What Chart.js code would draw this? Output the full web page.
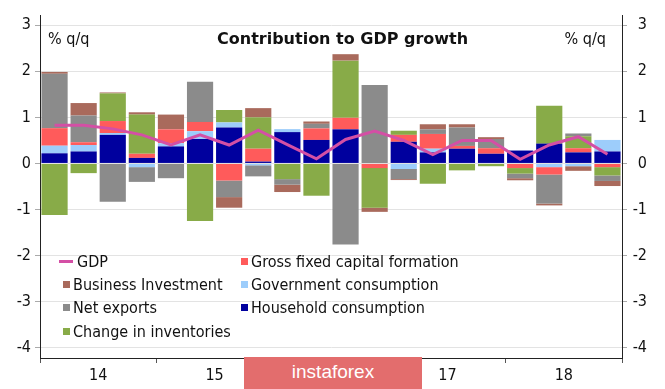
<!DOCTYPE html>
<html>
<head>
<meta charset="utf-8">
<script src="https://cdn.jsdelivr.net/npm/chart.js@4.4.1/dist/chart.umd.min.js"></script>
<style>
  body { margin: 0; background: #fff; }
  #wrap { position: relative; width: 665px; height: 389px; overflow: hidden; }
  #wrap div.t { position: absolute; white-space: nowrap; line-height: 20px; color: #111;
    font-family: "DejaVu Sans Condensed", "DejaVu Sans", sans-serif; font-size: 16px; }
  .sq { position: absolute; width: 7px; height: 7px; }
  #titre { font-family: "DejaVu Sans", sans-serif !important; font-weight: bold; }
  #wm { position: absolute; left: 244px; top: 357px; width: 178px; height: 32px; background: #e36d6d;
    color: #fff; font-family: "Liberation Sans", sans-serif; font-size: 19px; line-height: 30px; text-align: center; }
</style>
</head>
<body>
<div id="wrap">
  <canvas id="graph" width="665" height="389"></canvas>
  <div class="t" id="titre" style="left:217px; top:29px;">Contribution to GDP growth</div>
  <div class="t" style="left:48px; top:29px;">% q/q</div>
  <div class="t" style="right:59px; top:29px;">% q/q</div>
  <div id="legende"></div>
  <div id="wm">instaforex</div>
</div>
<script>
// trimestres 2014 T1 -> 2018 T4
const trimestres = ["14Q1","14Q2","14Q3","14Q4","15Q1","15Q2","15Q3","15Q4",
  "16Q1","16Q2","16Q3","16Q4","17Q1","17Q2","17Q3","17Q4","18Q1","18Q2","18Q3","18Q4"];
const annees = ["14", "15", "16", "17", "18"];
const yTicks = [3, 2, 1, 0, -1, -2, -3, -4];

const pib = [0.83, 0.83, 0.75, 0.62, 0.40, 0.62, 0.40, 0.72, 0.41, 0.10,
  0.52, 0.70, 0.50, 0.19, 0.50, 0.50, 0.09, 0.40, 0.58, 0.20];
const menages = [0.22, 0.26, 0.62, 0.12, 0.37, 0.53, 0.78, 0.04, 0.68, 0.51,
  0.74, 0.00, 0.47, 0.24, 0.32, 0.21, 0.28, 0.43, 0.24, 0.26];
const gouvernement = [0.165, 0.14, 0.04, -0.08, 0.07, 0.17, 0.11, -0.04, 0.065, 0,
  0, 0, -0.12, 0.08, 0, 0, 0, -0.08, -0.06, 0.25];
const fbcf = [0.38, 0.06, 0.26, 0.09, 0.30, 0.20, -0.37, 0.28, 0, 0.25,
  0.25, -0.10, 0.15, 0.32, 0.06, 0.12, -0.10, -0.16, 0.09, -0.08];
const stocks = [-1.12, -0.21, 0.60, 0.85, 0, -1.25, 0.27, 0.68, -0.34, -0.70,
  1.24, -0.86, 0.09, -0.44, -0.15, -0.06, -0.12, 0.82, 0.26, -0.18];
const exportsNettes = [1.18, 0.58, -0.83, -0.32, -0.32, 0.87, -0.36, -0.24, -0.12, 0.10,
  -1.76, 1.70, -0.22, 0.10, 0.40, 0.20, -0.10, -0.63, 0.06, -0.12];
const investEntreprises = [0.04, 0.27, 0.02, 0.05, 0.32, 0, -0.23, 0.20, -0.16, 0.05,
  0.14, -0.09, -0.02, 0.11, 0.07, 0.04, -0.045, -0.04, -0.10, -0.11];

const couleurs = {
  pib: "#d44fa5",
  menages: "#00009e",
  gouv: "#9dcdfb",
  fbcf: "#ff5b5b",
  stocks: "#88ab48",
  exports: "#8b8b8b",
  entreprises: "#a96a5c"
};

// légende (2 colonnes, comme l'original)
const legendeItems = [
  { txt: "GDP", col: couleurs.pib, ligne: true, x: 59, row: 0 },
  { txt: "Gross fixed capital formation", col: couleurs.fbcf, x: 241, row: 0 },
  { txt: "Business Investment", col: couleurs.entreprises, x: 63, row: 1 },
  { txt: "Government consumption", col: couleurs.gouv, x: 241, row: 1 },
  { txt: "Net exports", col: couleurs.exports, x: 63, row: 2 },
  { txt: "Household consumption", col: couleurs.menages, x: 241, row: 2 },
  { txt: "Change in inventories", col: couleurs.stocks, x: 63, row: 3 }
];
const leg = document.getElementById("legende");
legendeItems.forEach(it => {
  const base = 267 + it.row * 23.4;
  const m = document.createElement("div");
  m.className = "sq";
  if (it.ligne) {
    m.style.cssText = `left:${it.x}px; top:${base - 7.5}px; width:14px; height:3px; background:${it.col}`;
  } else {
    m.style.cssText = `left:${it.x}px; top:${base - 9.5}px; background:${it.col}`;
  }
  leg.appendChild(m);
  const t = document.createElement("div");
  t.className = "t";
  t.textContent = it.txt;
  t.style.left = (it.x === 59 ? 77 : it.x + 10) + "px";
  t.style.top = (base - 15.5) + "px";
  leg.appendChild(t);
});

function barre(label, data, couleur) {
  return {
    type: "bar", label: label, data: data, backgroundColor: couleur,
    borderWidth: 0,
    yAxisID: "y", xAxisID: "x", order: 1,
    barPercentage: 0.9, categoryPercentage: 1.0
  };
}

const police = { family: "'DejaVu Sans Condensed', 'DejaVu Sans', sans-serif", size: 16 };

new Chart(document.getElementById("graph"), {
  data: {
    labels: trimestres,
    datasets: [
      {
        type: "line", label: "GDP", data: pib, borderColor: couleurs.pib, borderWidth: 3,
        pointRadius: 0, tension: 0, yAxisID: "yR", xAxisID: "x", order: 0
      },
      barre("Household consumption", menages, couleurs.menages),
      barre("Government consumption", gouvernement, couleurs.gouv),
      barre("Gross fixed capital formation", fbcf, couleurs.fbcf),
      barre("Change in inventories", stocks, couleurs.stocks),
      barre("Net exports", exportsNettes, couleurs.exports),
      barre("Business Investment", investEntreprises, couleurs.entreprises)
    ]
  },
  options: {
    responsive: false,
    animation: false,
    layout: { padding: { top: 15, right: 18, left: 0, bottom: 0 } },
    plugins: { legend: { display: false }, tooltip: { enabled: false } },
    scales: {
      x: { type: "category", display: false, stacked: true },
      annee: {
        type: "category", labels: annees, position: "bottom", offset: true,
        grid: { display: true, drawOnChartArea: false, offset: true, tickLength: 5, color: "#555" },
        border: { display: true, color: "#222" },
        ticks: { color: "#111", font: police, padding: 3, maxRotation: 0 },
        afterFit: s => { s.height = 31; }
      },
      y: {
        position: "left", stacked: true, min: -4.22, max: 3.22,
        grid: { color: "#e3e3e3", tickLength: 5, tickColor: "#aaa" },
        border: { display: true, color: "#222" },
        ticks: { color: "#111", font: police, padding: 4 },
        afterBuildTicks: s => { s.ticks = yTicks.map(v => ({ value: v })); },
        afterFit: s => { s.width = 40; }
      },
      yR: {
        position: "right", min: -4.22, max: 3.22,
        grid: { drawOnChartArea: false, tickLength: 5, tickColor: "#aaa" },
        border: { display: true, color: "#222" },
        ticks: { color: "#111", font: police, padding: 4, crossAlign: "far" },
        afterBuildTicks: s => { s.ticks = yTicks.map(v => ({ value: v })); },
        afterFit: s => { s.width = 25; }
      }
    }
  }
});
</script>
</body>
</html>
